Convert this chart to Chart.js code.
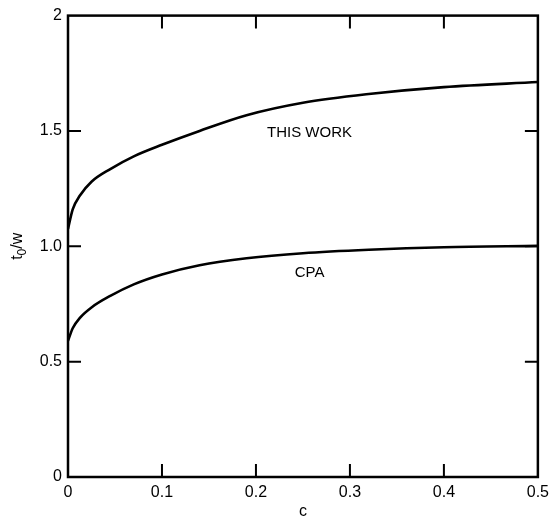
<!DOCTYPE html>
<html>
<head>
<meta charset="utf-8">
<script src="https://cdn.jsdelivr.net/npm/chart.js"></script>
<style>
  html, body { margin: 0; padding: 0; background: #fff; }
</style>
</head>
<body>
<canvas id="chart" width="555" height="520"></canvas>
<script>
// concentration c
const cValues = [0, 0.005, 0.0127, 0.025, 0.045, 0.07, 0.1, 0.14, 0.19, 0.25, 0.32, 0.4, 0.5];
// t0/w curves
const thisWork = [1.075, 1.16, 1.22, 1.28, 1.335, 1.39, 1.44, 1.50, 1.568, 1.622, 1.66, 1.69, 1.712];
const cpa = [0.59, 0.645, 0.69, 0.735, 0.785, 0.835, 0.878, 0.918, 0.948, 0.970, 0.985, 0.996, 1.002];

const xTicks = [0, 0.1, 0.2, 0.3, 0.4, 0.5];
const xTickLabels = ['0', '0.1', '0.2', '0.3', '0.4', '0.5'];
const yTicks = [0, 0.5, 1, 1.5, 2];
const yTickLabels = ['0', '0.5', '1.0', '1.5', '2'];

const curveNames = ['THIS WORK', 'CPA'];
const curveNameC = [0.257, 0.257];
const curveNameV = [1.49, 0.886];

const FONT = '"Liberation Sans", Arial, sans-serif';

function toPoints(ys) {
  return cValues.map(function (c, i) { return { x: c, y: ys[i] }; });
}

// frame, inward ticks, curve names and axis titles
const decorations = {
  id: 'decorations',
  afterDraw: function (chart) {
    const ctx = chart.ctx;
    const a = chart.chartArea;
    const xs = chart.scales.x;
    const ys = chart.scales.y;
    const tl = 13;

    ctx.save();
    ctx.strokeStyle = '#000';
    ctx.lineWidth = 2.5;
    ctx.strokeRect(a.left, a.top, a.right - a.left, a.bottom - a.top);

    ctx.lineWidth = 2;
    ctx.beginPath();
    xTicks.slice(1, -1).forEach(function (v) {
      const px = xs.getPixelForValue(v);
      ctx.moveTo(px, a.bottom); ctx.lineTo(px, a.bottom - tl);
      ctx.moveTo(px, a.top); ctx.lineTo(px, a.top + tl);
    });
    yTicks.slice(1, -1).forEach(function (v) {
      const py = ys.getPixelForValue(v);
      ctx.moveTo(a.left, py); ctx.lineTo(a.left + tl, py);
      ctx.moveTo(a.right, py); ctx.lineTo(a.right - tl, py);
    });
    ctx.stroke();

    ctx.fillStyle = '#000';
    ctx.font = '15px ' + FONT;
    ctx.textAlign = 'center';
    ctx.textBaseline = 'middle';
    curveNames.forEach(function (name, i) {
      ctx.fillText(name, xs.getPixelForValue(curveNameC[i]), ys.getPixelForValue(curveNameV[i]));
    });

    // x title
    ctx.font = '16px ' + FONT;
    ctx.fillText('c', (a.left + a.right) / 2, 512);

    // y title t0/w
    ctx.translate(16, (a.top + a.bottom) / 2);
    ctx.rotate(-Math.PI / 2);
    ctx.textAlign = 'left';
    ctx.textBaseline = 'alphabetic';
    ctx.font = '16px ' + FONT;
    const w1 = ctx.measureText('t').width;
    ctx.font = '12px ' + FONT;
    const w2 = ctx.measureText('0').width;
    ctx.font = '16px ' + FONT;
    const w3 = ctx.measureText('/w').width;
    let x0 = -(w1 + w2 + w3) / 2;
    ctx.fillText('t', x0, 6);
    ctx.font = '12px ' + FONT;
    ctx.fillText('0', x0 + w1, 10);
    ctx.font = '16px ' + FONT;
    ctx.fillText('/w', x0 + w1 + w2, 6);
    ctx.restore();
  }
};

new Chart(document.getElementById('chart'), {
  type: 'line',
  data: {
    datasets: [
      {
        label: curveNames[0],
        data: toPoints(thisWork),
        borderColor: '#000',
        borderWidth: 2.6,
        pointRadius: 0,
        cubicInterpolationMode: 'monotone',
        fill: false
      },
      {
        label: curveNames[1],
        data: toPoints(cpa),
        borderColor: '#000',
        borderWidth: 2.6,
        pointRadius: 0,
        cubicInterpolationMode: 'monotone',
        fill: false
      }
    ]
  },
  options: {
    responsive: false,
    animation: false,
    devicePixelRatio: 1,
    layout: { padding: { left: 0, right: 15, top: 12, bottom: 0 } },
    plugins: {
      legend: { display: false },
      tooltip: { enabled: false }
    },
    scales: {
      x: {
        type: 'linear',
        min: 0,
        max: 0.5,
        afterFit: function (s) { s.height = 43; },
        afterBuildTicks: function (s) { s.ticks = xTicks.map(function (v) { return { value: v }; }); },
        grid: { display: false, drawTicks: false },
        border: { display: false },
        ticks: {
          color: '#000',
          font: { family: FONT, size: 16 },
          padding: 6,
          maxRotation: 0,
          callback: function (v) { return xTickLabels[xTicks.indexOf(v)]; }
        }
      },
      y: {
        type: 'linear',
        min: 0,
        max: 2,
        afterFit: function (s) { s.width = 68; },
        afterBuildTicks: function (s) { s.ticks = yTicks.map(function (v) { return { value: v }; }); },
        grid: { display: false, drawTicks: false },
        border: { display: false },
        ticks: {
          color: '#000',
          font: { family: FONT, size: 16 },
          padding: 6,
          callback: function (v) { return yTickLabels[yTicks.indexOf(v)]; }
        }
      }
    }
  },
  plugins: [decorations]
});
</script>
</body>
</html>
